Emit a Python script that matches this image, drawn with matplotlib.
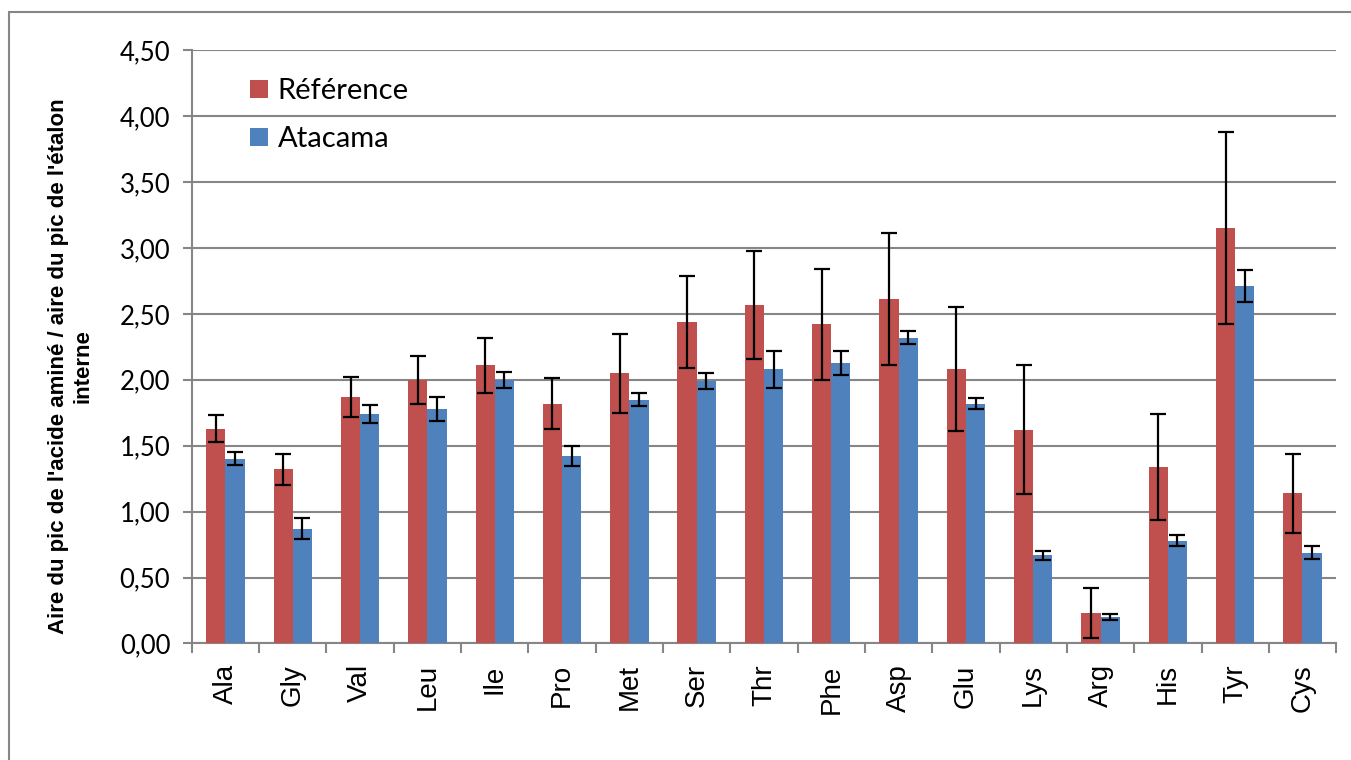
"""Amino acid peak area ratios, reference vs Atacama."""

import matplotlib

matplotlib.use("Agg")
import matplotlib.pyplot as plt
import numpy as np
from matplotlib.patches import Rectangle

categories = ["Ala", "Gly", "Val", "Leu", "Ile", "Pro", "Met", "Ser", "Thr",
              "Phe", "Asp", "Glu", "Lys", "Arg", "His", "Tyr", "Cys"]
reference = [1.63, 1.32, 1.87, 2.00, 2.11, 1.82, 2.05, 2.44, 2.57,
             2.42, 2.61, 2.08, 1.62, 0.23, 1.34, 3.15, 1.14]
reference_err = [0.10, 0.12, 0.15, 0.18, 0.21, 0.19, 0.30, 0.35, 0.41,
                 0.42, 0.50, 0.47, 0.49, 0.19, 0.40, 0.73, 0.30]
atacama = [1.40, 0.87, 1.74, 1.78, 2.00, 1.42, 1.85, 1.99, 2.08,
           2.13, 2.32, 1.82, 0.67, 0.20, 0.78, 2.71, 0.69]
atacama_err = [0.05, 0.08, 0.07, 0.09, 0.06, 0.075, 0.05, 0.06, 0.14,
               0.09, 0.05, 0.045, 0.035, 0.02, 0.04, 0.12, 0.05]
y_ticks = [0.0, 0.5, 1.0, 1.5, 2.0, 2.5, 3.0, 3.5, 4.0, 4.5]

plt.rcParams["font.family"] = ["Lato", "DejaVu Sans"]
grey = "#868686"

fig = plt.figure(figsize=(13.51, 7.6), dpi=100)
fig.patches.append(Rectangle((9 / 1351, -0.1), 1.2, 1 - 12 / 760 + 0.1,
                             transform=fig.transFigure, fill=False,
                             edgecolor=grey, linewidth=1.5))
ax = fig.add_axes([0.142, 0.1533, 0.847, 0.7807])

x = np.arange(len(categories))
w = 0.285
err_kw = dict(ecolor="black", elinewidth=1.6, capsize=6, capthick=1.6)
ax.bar(x - w / 2, reference, w, yerr=reference_err, color="#C0504D",
       label="Référence", error_kw=err_kw, zorder=3)
ax.bar(x + w / 2, atacama, w, yerr=atacama_err, color="#4F81BD",
       label="Atacama", error_kw=err_kw, zorder=3)

ax.set_xlim(-0.5, len(categories) - 0.5)
ax.set_ylim(0, 4.5)
ax.set_yticks(y_ticks)
ax.set_yticklabels([f"{v:.2f}".replace(".", ",") for v in y_ticks], fontsize=18.5)
ax.set_xticks(x)
ax.set_xticklabels(categories, rotation=90, fontsize=20,
                   family=["Liberation Sans", "DejaVu Sans"])
ax.tick_params(axis="x", length=0, pad=15)
ax.set_xticks(np.arange(len(categories) + 1) - 0.5, minor=True)
ax.tick_params(axis="x", which="minor", length=7, color=grey, width=1.5)
ax.tick_params(axis="y", length=6.5, color=grey, width=1.5, pad=9)
ax.grid(axis="y", color=grey, linewidth=1.5, zorder=0)
for side in ("top", "right"):
    ax.spines[side].set_visible(False)
for side in ("left", "bottom"):
    ax.spines[side].set_color(grey)
    ax.spines[side].set_linewidth(1.5)

fig.text(0.0525, 0.518,
         "Aire du pic de l'acide aminé / aire du pic de l'étalon\ninterne",
         rotation=90, ha="center", va="center", multialignment="center",
         fontsize=16, fontweight="bold", linespacing=1.25,
         family=["Liberation Sans", "DejaVu Sans"])
ax.legend(loc="upper left", bbox_to_anchor=(0.028, 0.997), frameon=False,
          fontsize=21, handlelength=0.6, handleheight=0.6, handletextpad=0.35,
          labelspacing=0.75)

fig.savefig("out.png", dpi=100)
